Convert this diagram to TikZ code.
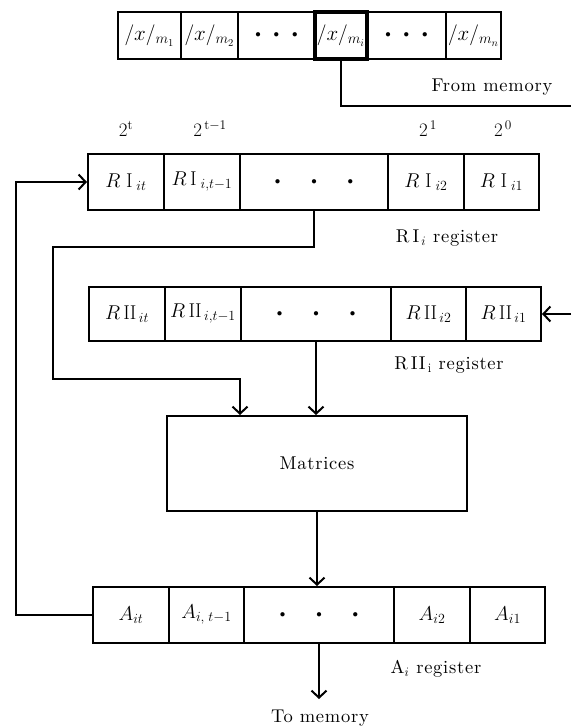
\RequirePackage{fix-cm}
\documentclass[tikz,border=0pt]{standalone}
\usepackage{fontspec}
\usetikzlibrary{arrows.meta}
% slightly letter-spaced face for the plain-text labels
\newfontfamily\spc{lmroman10-regular.otf}[LetterSpace=4]
% three centred dots with a given gap
\newcommand\threedots[1]{{\fontsize{11}{12}\selectfont$\bullet$\hspace{#1}$\bullet$\hspace{#1}$\bullet$}}
\begin{document}
\begin{tikzpicture}[x=1pt,y=-1pt,line width=2pt,
  cell/.style={draw,line width=2pt,inner sep=0pt,font=\fontsize{20}{22}\selectfont},
  topcell/.style={cell,minimum height=47pt,font=\fontsize{21}{23}\selectfont},
  lbl/.style={inner sep=0pt,font=\fontsize{18.5}{21}\selectfont},
  wt/.style={inner sep=0pt,font=\fontsize{19}{21}\selectfont},
  arr/.style={-{Straight Barb[length=7pt,width=15pt,line width=2pt]}}]
\useasboundingbox (0,0) rectangle (571,728);

% residues of x held in memory
\node[topcell,minimum width=63pt] (m1) at (149.5,35.5) {$/x/_{m_1}$};
\node[topcell,minimum width=57pt] (m2) at (209.5,35.5) {$/x/_{m_2}$};
\node[topcell,minimum width=77pt] (td1) at (276.5,35.5) {\threedots{13pt}};
\node[topcell,minimum width=79pt] (td2) at (406.5,35.5) {\threedots{13pt}};
\node[topcell,minimum width=55pt] (mn) at (473.5,35.5) {$/x/_{m_n}$};
\node[topcell,line width=3.5pt,minimum width=52pt] (mi) at (341,35.5) {$/x/_{m_i}$};

\coordinate (memin) at (571,106);
\draw (mi.south) |- (memin);
\node[lbl] (frommem) at (492,87) {\spc From memory};

% bit weights
\node[wt] (w1) at (126,129) {$2^{\mathrm{t}}$};
\node[wt] (w2) at (210,129) {$2^{\,\mathrm{t}-1}$};
\node[wt] (w3) at (428,129) {$2^{\,1}$};
\node[wt] (w4) at (503,129) {$2^{\,0}$};

% R I_i register
\node[cell,minimum width=76pt,minimum height=56pt] (RIa) at (126,182) {$R\;\mathrm{I}_{\;it}$};
\node[cell,minimum width=76pt,minimum height=56pt] (RIb) at (202,182) {$R\,\mathrm{I}_{\;i,t-1}$};
\node[cell,minimum width=148pt,minimum height=56pt] (RIc) at (314,182) {\threedots{31pt}};
\node[cell,minimum width=76pt,minimum height=56pt] (RId) at (426,182) {$R\;\mathrm{I}_{\;i2}$};
\node[cell,minimum width=75pt,minimum height=56pt] (RIe) at (501.5,182) {$R\;\mathrm{I}_{\;i1}$};
\node[lbl] (RIlbl) at (447,238) {\spc R\,I$_{\,i}$ register};

% R II_i register
\node[cell,minimum width=76pt,minimum height=54pt] (RIIa) at (127,314) {$R\,\mathrm{II}_{\,it}$};
\node[cell,minimum width=76pt,minimum height=54pt] (RIIb) at (203,314) {$R\,\mathrm{II}_{\,i,t-1}$};
\node[cell,minimum width=150pt,minimum height=54pt] (RIIc) at (316,314) {\threedots{31pt}};
\node[cell,minimum width=75pt,minimum height=54pt] (RIId) at (428.5,314) {$R\,\mathrm{II}_{\,i2}$};
\node[cell,minimum width=75pt,minimum height=54pt] (RIIe) at (503.5,314) {$R\,\mathrm{II}_{\,i1}$};
\node[lbl] (RIIlbl) at (449,365) {\spc R\,II$_{\,\mathrm{i}}$ register};

\coordinate (rin) at (571,314);
\draw[arr] (rin) -- (RIIe.east);

% matrices
\node[cell,minimum width=300pt,minimum height=95pt,font=\fontsize{18.5}{21}\selectfont] (Mat) at (317,463.5) {\spc Matrices};

\coordinate (t1) at (314,247);
\coordinate (t2) at (53,247);
\coordinate (t3) at (53,379);
\coordinate (t4) at (240,379);
\draw[arr] (RIc.south) -- (t1) -- (t2) -- (t3) -- (t4) -- (t4 |- Mat.north);
\draw[arr] (RIIc.south) -- (RIIc.south |- Mat.north);

% A_i register
\node[cell,minimum width=76pt,minimum height=56pt] (Aa) at (131,615) {$A_{it}$};
\node[cell,minimum width=75pt,minimum height=56pt] (Ab) at (206.5,615) {$A_{i,\;t-1}$};
\node[cell,minimum width=150pt,minimum height=56pt] (Ac) at (319,615) {\threedots{31pt}};
\node[cell,minimum width=76pt,minimum height=56pt] (Ad) at (432,615) {$A_{i2}$};
\node[cell,minimum width=75pt,minimum height=56pt] (Ae) at (507.5,615) {$A_{i1}$};
\node[lbl] (Albl) at (436,669) {\spc A$_{i}$ register};

\draw[arr] (Mat.south) -- (Mat.south |- Ac.north);

% feedback from A_i back into R I_i
\coordinate (fb) at (16,615);
\draw[arr] (Aa.west) -- (fb) |- (RIa.west);

% result to memory
\coordinate (out) at (319,699);
\draw[arr] (Ac.south) -- (out);
\node[lbl] (tomem) at (320,718) {\spc To memory};
\end{tikzpicture}
\end{document}
